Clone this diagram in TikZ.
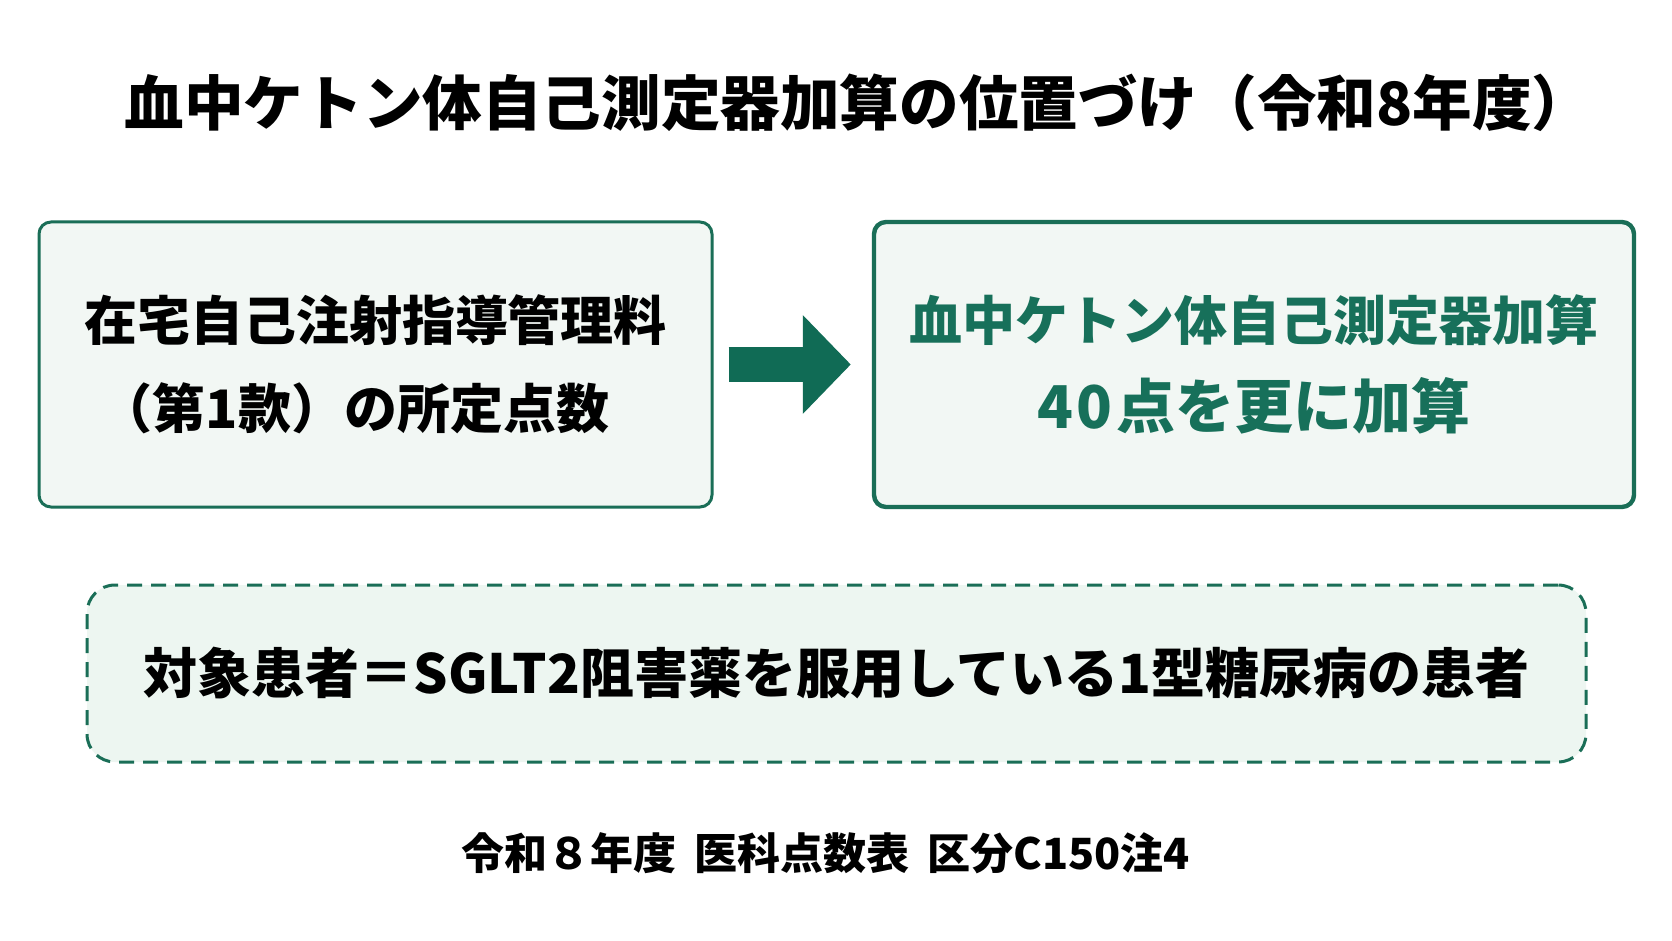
\documentclass[tikz,border=0pt]{standalone}
\usepackage{fontspec}
\usepackage{tikz}
\usetikzlibrary{arrows.meta}
\newfontfamily\jp{Noto Sans CJK JP}

\definecolor{boxgreen}{HTML}{1A6E57}
\definecolor{arrowgreen}{HTML}{106B55}
\definecolor{textgreen}{HTML}{17705A}
\definecolor{boxfill}{HTML}{F2F7F4}
\definecolor{mintfill}{HTML}{EDF6F1}

\tikzset{
  mainbox/.style={draw=boxgreen, fill=boxfill, rounded corners=6pt, align=center,
    minimum height=142.5pt, inner sep=0pt,
    font={\jp\bfseries\fontsize{26.5}{44}\selectfont}},
  targetbox/.style={mainbox, line width=2.2pt, text=textgreen},
  notebox/.style={draw=boxgreen, fill=mintfill, line width=1.5pt, dash pattern=on 7.5pt off 4.5pt,
    rounded corners=14pt, minimum width=749.5pt, minimum height=88.5pt, inner sep=0pt,
    font={\jp\bfseries\fontsize{27}{32}\selectfont}}
}

\begin{document}
\begin{tikzpicture}[x=0.5pt, y=-0.5pt]
  % Canvas
  \useasboundingbox[fill=white] (0,0) rectangle (1672,941);

  % Title
  \node[font={\jp\bfseries\fontsize{29.8}{34}\selectfont}] (title) at (858,103)
    {血中ケトン体自己測定器加算の位置づけ（令和8年度）};

  % Boxes
  \node[mainbox, line width=1.5pt, minimum width=336.5pt] (base) at (375.5,364.5)
    {在宅自己注射指導管理料\\（第1款）の所定点数\hspace*{21pt}};
  \node[targetbox, minimum width=380pt] (addon) at (1254,364.5)
    {血中ケトン体自己測定器加算\\{\fontsize{29.5}{44}\selectfont 4\kern2pt0\kern2pt点を更に加算}};

  % Arrow
  \draw[arrowgreen, line width=17.5pt, shorten <=7.5pt, shorten >=10.5pt,
    -{Triangle[length=24pt, width=48pt]}] (base) -- (addon);

  % Target patients
  \node[notebox] (patients) at (836.5,673.5)
    {対象患者＝SGLT2阻害薬を服用している1型糖尿病の患者};

  % Source
  \node[font={\jp\bfseries\fontsize{21.5}{24}\selectfont}] (source) at (826,853)
    {令和８年度\hspace{4pt} 医科点数表\hspace{4pt} 区分C150注4};
\end{tikzpicture}
\end{document}
